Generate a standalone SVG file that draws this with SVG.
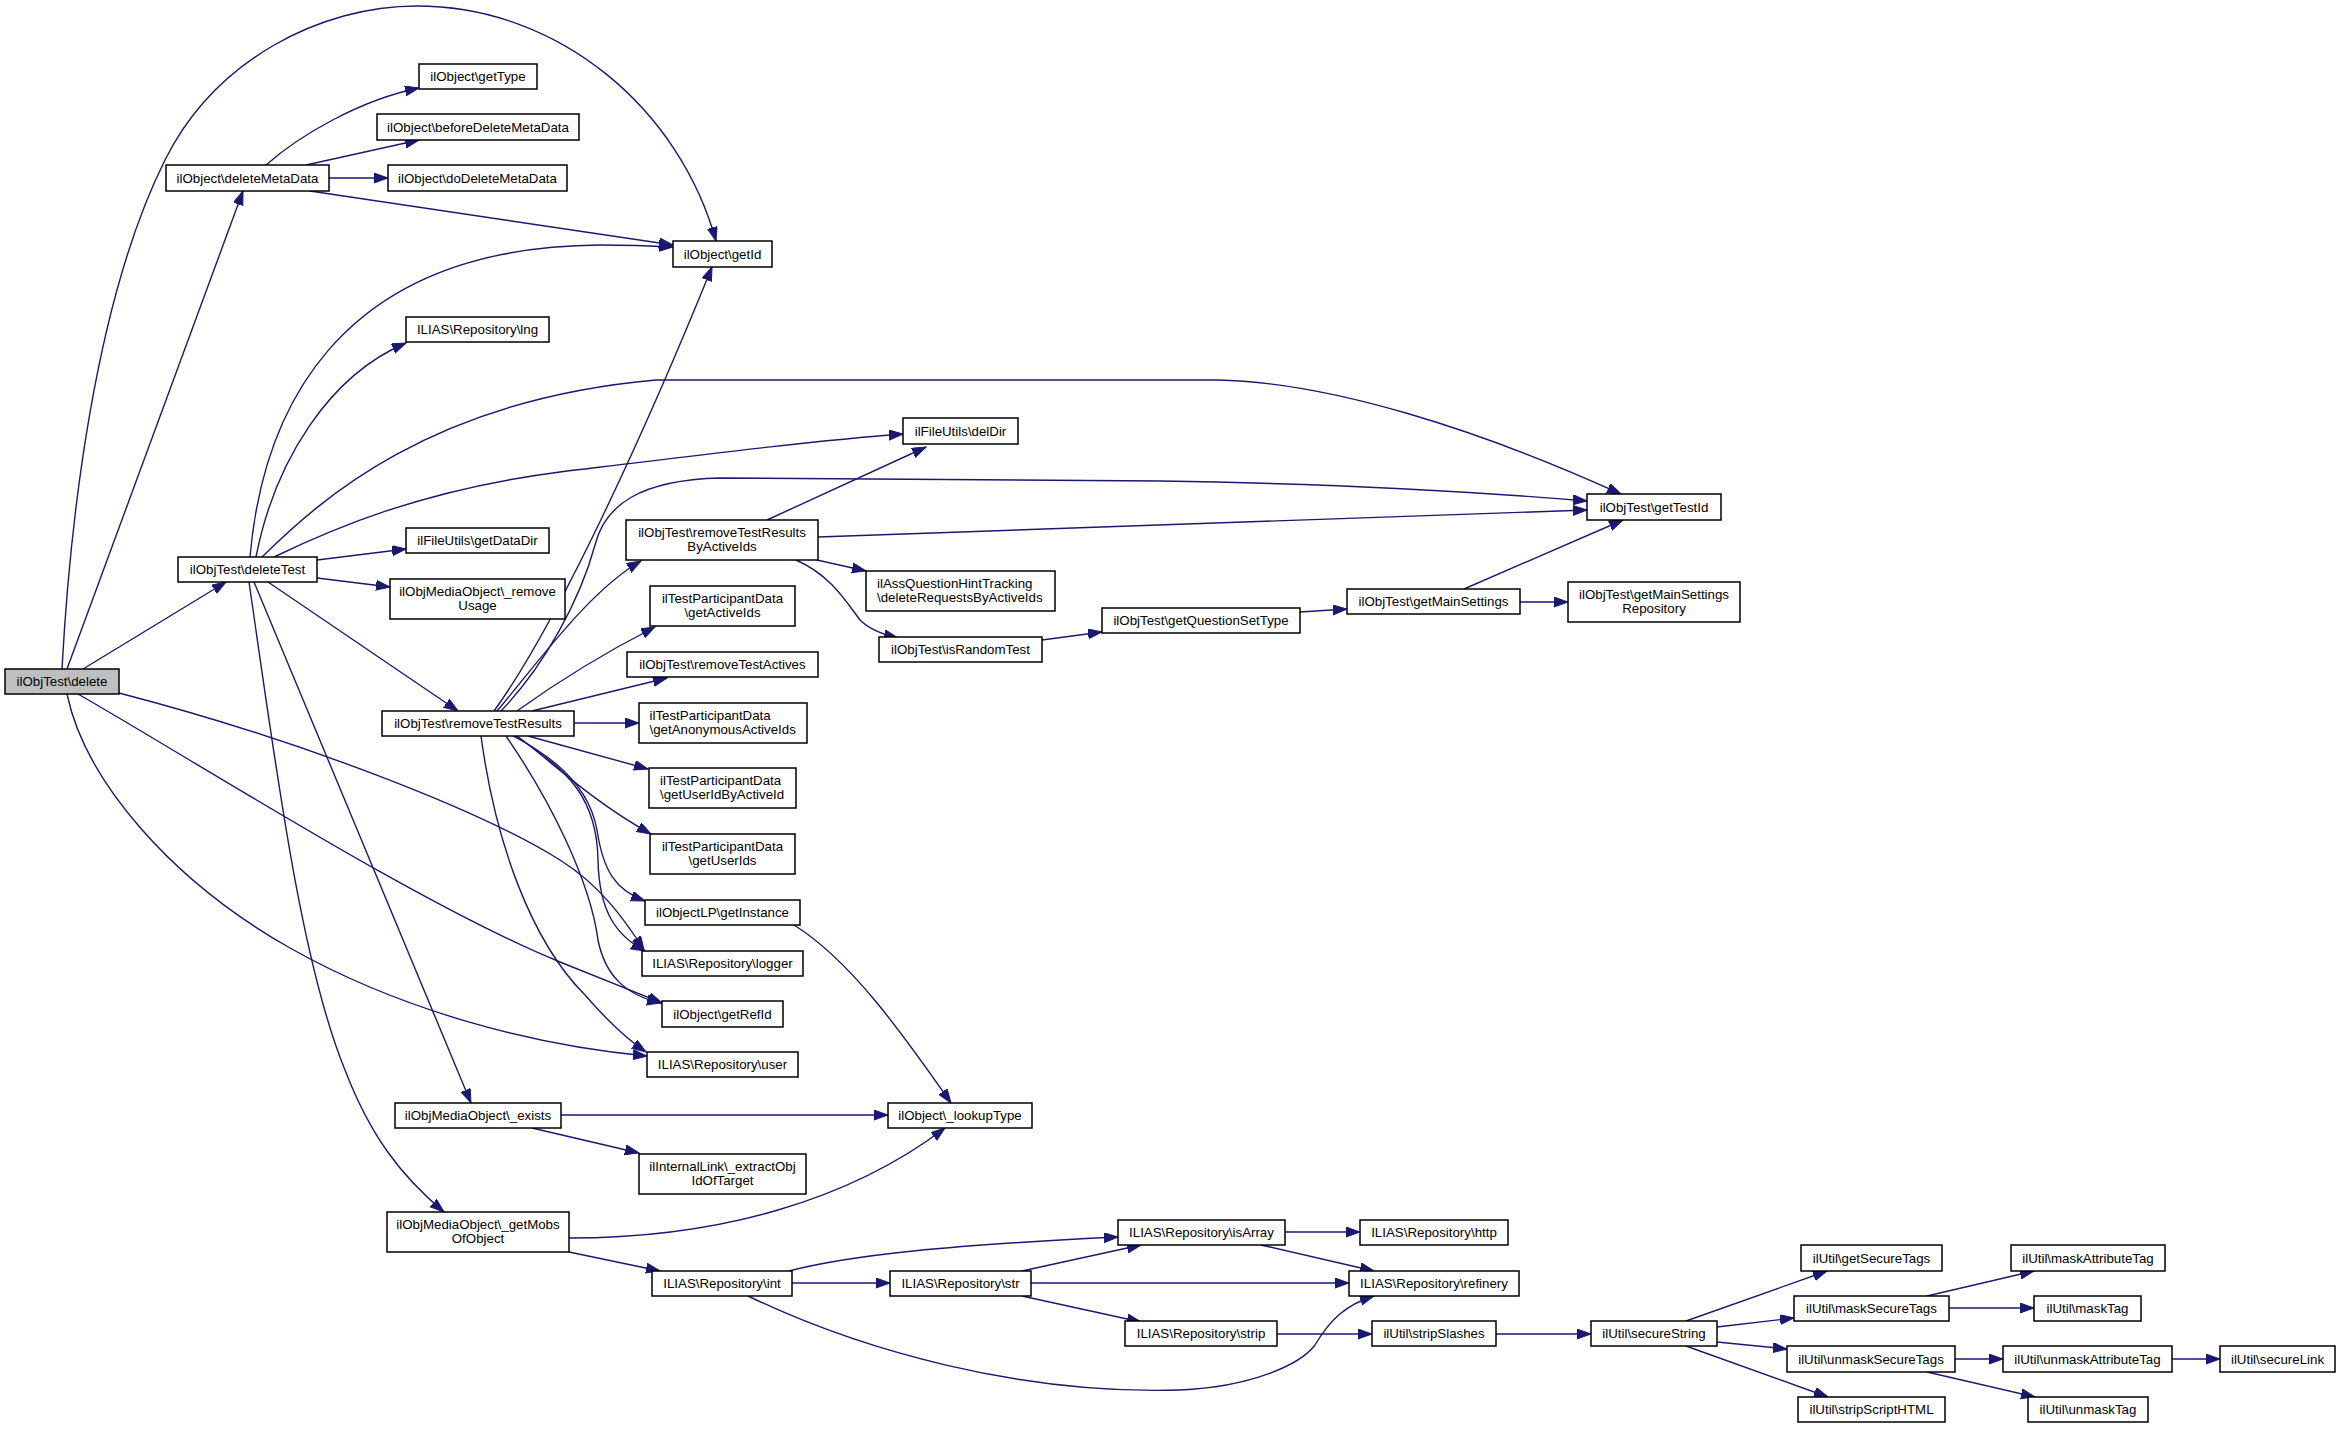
<svg xmlns="http://www.w3.org/2000/svg" width="2341" height="1429" viewBox="0 0 2341 1429">
<style>
rect{fill:#fff;stroke:#000;stroke-width:1.5}
rect.root{fill:#bfbfbf}
text{font-family:"Liberation Sans",Arial,Helvetica,sans-serif;font-size:13.3px;fill:#000;text-anchor:middle}
text.l{text-anchor:start}
#edges path{fill:none;stroke:#191970;stroke-width:1.4;marker-end:url(#ah)}
</style>
<defs>
<marker id="ah" markerUnits="userSpaceOnUse" markerWidth="16" markerHeight="12" refX="14" refY="5" orient="auto">
<path d="M0,0 L14,5 L0,10 z" fill="#191970" stroke="#191970" stroke-width="1"/>
</marker>
</defs>
<rect x="0" y="0" width="2341" height="1429" style="fill:#fff;stroke:none"/>
<g id="edges">
<path d="M62,669 C70,520 95,300 165,160 C215,60 320,6 417,6 C560,6 680,110 716,241"/>
<path d="M67,669 L243,191"/>
<path d="M83,669 L226,582"/>
<path d="M119,693 C300,740 480,810 560,860 C600,885 625,920 644,950"/>
<path d="M78,694 C200,764 420,905 560,962 C600,978 630,990 662,1003"/>
<path d="M67,694 C85,780 170,880 290,948 C400,1010 530,1045 647,1056"/>
<path d="M250,557 C262,420 330,247 600,245 C630,245 655,246 673,247"/>
<path d="M310,191 L673,245"/>
<path d="M256,557 C275,460 330,375 406,343"/>
<path d="M262,557 C320,500 430,400 656,380 L1217,380 C1330,382 1480,430 1621,494"/>
<path d="M274,557 C330,530 420,490 560,472 C700,455 820,440 903,434"/>
<path d="M317,560 L406,549"/>
<path d="M317,578 L390,587"/>
<path d="M268,582 L458,711"/>
<path d="M254,582 L471,1103"/>
<path d="M249,582 C275,760 300,960 345,1070 C370,1135 400,1175 444,1212"/>
<path d="M266,165 C300,135 360,100 419,88"/>
<path d="M306,165 L419,140"/>
<path d="M329,178 L388,178"/>
<path d="M494,711 C560,620 650,420 712,267"/>
<path d="M497,711 C540,660 590,590 641,561"/>
<path d="M501,711 C545,665 580,600 595,545 C605,505 640,480 720,478 L1160,481 C1350,484 1480,492 1587,501"/>
<path d="M517,711 C560,680 610,650 655,627"/>
<path d="M532,711 L667,678"/>
<path d="M574,723 L639,723"/>
<path d="M528,736 L648,769"/>
<path d="M517,736 C550,760 590,800 651,834"/>
<path d="M513,736 C560,760 590,790 597,830 C603,870 615,890 645,901"/>
<path d="M515,736 C570,770 597,800 598,860 C599,910 615,935 645,951"/>
<path d="M506,736 C550,800 590,880 598,940 C605,975 625,995 661,1003"/>
<path d="M481,736 C495,840 530,940 585,995 C605,1018 625,1038 646,1052"/>
<path d="M794,925 C850,960 900,1030 951,1103"/>
<path d="M767,520 L926,447"/>
<path d="M818,537 L1587,510"/>
<path d="M817,560 L866,571"/>
<path d="M796,560 C830,575 845,600 860,620 C870,630 885,635 898,638"/>
<path d="M1042,640 L1102,632"/>
<path d="M1300,612 L1347,609"/>
<path d="M1464,589 L1623,520"/>
<path d="M1520,602 L1568,602"/>
<path d="M561,1115 L888,1115"/>
<path d="M532,1128 L639,1153"/>
<path d="M569,1238 C720,1238 850,1200 945,1128"/>
<path d="M569,1252 L660,1271"/>
<path d="M789,1271 C850,1255 950,1245 1118,1237"/>
<path d="M792,1283 L890,1283"/>
<path d="M748,1296 C860,1350 1020,1395 1180,1390 C1250,1387 1300,1365 1315,1345 C1330,1320 1345,1305 1374,1296"/>
<path d="M1022,1271 L1141,1245"/>
<path d="M1031,1283 L1349,1283"/>
<path d="M1022,1296 L1141,1322"/>
<path d="M1285,1232 L1360,1232"/>
<path d="M1261,1245 L1374,1271"/>
<path d="M1277,1334 L1372,1334"/>
<path d="M1496,1334 L1591,1334"/>
<path d="M1686,1321 L1827,1271"/>
<path d="M1717,1327 L1794,1318"/>
<path d="M1717,1342 L1787,1349"/>
<path d="M1686,1346 L1828,1397"/>
<path d="M1927,1296 L2034,1271"/>
<path d="M1949,1308 L2034,1308"/>
<path d="M1955,1359 L2003,1359"/>
<path d="M1927,1372 L2035,1397"/>
<path d="M2172,1359 L2220,1359"/>
</g>
<g id="n_delete"><rect class="root" x="5" y="669" width="114" height="25"/><text x="62" y="686.2">ilObjTest\delete</text></g>
<g id="n_deleteMetaData"><rect x="166" y="165" width="163" height="26"/><text x="247.5" y="182.7">ilObject\deleteMetaData</text></g>
<g id="n_getType"><rect x="419" y="64" width="118" height="25"/><text x="478" y="81.2">ilObject\getType</text></g>
<g id="n_beforeDeleteMetaData"><rect x="377" y="114" width="202" height="26"/><text x="478" y="131.7">ilObject\beforeDeleteMetaData</text></g>
<g id="n_doDeleteMetaData"><rect x="388" y="165" width="179" height="26"/><text x="477.5" y="182.7">ilObject\doDeleteMetaData</text></g>
<g id="n_getId"><rect x="673" y="241" width="99" height="26"/><text x="722.5" y="258.7">ilObject\getId</text></g>
<g id="n_lng"><rect x="406" y="317" width="143" height="25"/><text x="477.5" y="334.2">ILIAS\Repository\lng</text></g>
<g id="n_delDir"><rect x="903" y="418" width="115" height="26"/><text x="960.5" y="435.7">ilFileUtils\delDir</text></g>
<g id="n_deleteTest"><rect x="178" y="557" width="139" height="25"/><text x="247.5" y="574.2">ilObjTest\deleteTest</text></g>
<g id="n_getDataDir"><rect x="406" y="528" width="143" height="25"/><text x="477.5" y="545.2">ilFileUtils\getDataDir</text></g>
<g id="n_removeUsage"><rect x="390" y="579" width="175" height="40"/><text x="477.5" y="596">ilObjMediaObject\_remove</text><text x="477.5" y="610">Usage</text></g>
<g id="n_removeTestResults"><rect x="382" y="711" width="192" height="25"/><text x="478" y="728.2">ilObjTest\removeTestResults</text></g>
<g id="n_removeTestResultsByActiveIds"><rect x="626" y="520" width="192" height="40"/><text x="722" y="537">ilObjTest\removeTestResults</text><text x="722" y="551">ByActiveIds</text></g>
<g id="n_getActiveIds"><rect x="650" y="586" width="145" height="40"/><text x="722.5" y="603">ilTestParticipantData</text><text x="722.5" y="617">\getActiveIds</text></g>
<g id="n_removeTestActives"><rect x="627" y="652" width="191" height="25"/><text x="722.5" y="669.2">ilObjTest\removeTestActives</text></g>
<g id="n_getAnonymousActiveIds"><rect x="639" y="703" width="168" height="40"/><text class="l" x="649.5" y="720">ilTestParticipantData</text><text class="l" x="649.5" y="734">\getAnonymousActiveIds</text></g>
<g id="n_getUserIdByActiveId"><rect x="649" y="768" width="147" height="40"/><text class="l" x="660" y="785">ilTestParticipantData</text><text class="l" x="660" y="799">\getUserIdByActiveId</text></g>
<g id="n_getUserIds"><rect x="650" y="834" width="145" height="40"/><text x="722.5" y="851">ilTestParticipantData</text><text x="722.5" y="865">\getUserIds</text></g>
<g id="n_getInstance"><rect x="645" y="900" width="155" height="25"/><text x="722.5" y="917.2">ilObjectLP\getInstance</text></g>
<g id="n_logger"><rect x="642" y="951" width="161" height="25"/><text x="722.5" y="968.2">ILIAS\Repository\logger</text></g>
<g id="n_getRefId"><rect x="662" y="1001" width="121" height="26"/><text x="722.5" y="1018.7">ilObject\getRefId</text></g>
<g id="n_user"><rect x="647" y="1052" width="151" height="25"/><text x="722.5" y="1069.2">ILIAS\Repository\user</text></g>
<g id="n_lookupType"><rect x="888" y="1103" width="144" height="25"/><text x="960" y="1120.2">ilObject\_lookupType</text></g>
<g id="n_extractObjIdOfTarget"><rect x="639" y="1154" width="167" height="40"/><text x="722.5" y="1171">ilInternalLink\_extractObj</text><text x="722.5" y="1185">IdOfTarget</text></g>
<g id="n_exists"><rect x="395" y="1103" width="166" height="25"/><text x="478" y="1120.2">ilObjMediaObject\_exists</text></g>
<g id="n_getMobsOfObject"><rect x="387" y="1212" width="182" height="40"/><text x="478" y="1229">ilObjMediaObject\_getMobs</text><text x="478" y="1243">OfObject</text></g>
<g id="n_int"><rect x="652" y="1271" width="140" height="25"/><text x="722" y="1288.2">ILIAS\Repository\int</text></g>
<g id="n_str"><rect x="890" y="1271" width="141" height="25"/><text x="960.5" y="1288.2">ILIAS\Repository\str</text></g>
<g id="n_isArray"><rect x="1118" y="1220" width="167" height="25"/><text x="1201.5" y="1237.2">ILIAS\Repository\isArray</text></g>
<g id="n_strip"><rect x="1125" y="1321" width="152" height="25"/><text x="1201" y="1338.2">ILIAS\Repository\strip</text></g>
<g id="n_http"><rect x="1360" y="1220" width="148" height="25"/><text x="1434" y="1237.2">ILIAS\Repository\http</text></g>
<g id="n_refinery"><rect x="1349" y="1271" width="170" height="25"/><text x="1434" y="1288.2">ILIAS\Repository\refinery</text></g>
<g id="n_stripSlashes"><rect x="1372" y="1321" width="124" height="25"/><text x="1434" y="1338.2">ilUtil\stripSlashes</text></g>
<g id="n_secureString"><rect x="1591" y="1321" width="126" height="25"/><text x="1654" y="1338.2">ilUtil\secureString</text></g>
<g id="n_getSecureTags"><rect x="1801" y="1245" width="141" height="26"/><text x="1871.5" y="1262.7">ilUtil\getSecureTags</text></g>
<g id="n_maskAttributeTag"><rect x="2011" y="1245" width="154" height="26"/><text x="2088" y="1262.7">ilUtil\maskAttributeTag</text></g>
<g id="n_maskSecureTags"><rect x="1794" y="1296" width="155" height="25"/><text x="1871.5" y="1313.2">ilUtil\maskSecureTags</text></g>
<g id="n_maskTag"><rect x="2034" y="1296" width="107" height="25"/><text x="2087.5" y="1313.2">ilUtil\maskTag</text></g>
<g id="n_unmaskSecureTags"><rect x="1787" y="1346" width="168" height="26"/><text x="1871" y="1363.7">ilUtil\unmaskSecureTags</text></g>
<g id="n_unmaskAttributeTag"><rect x="2003" y="1346" width="169" height="26"/><text x="2087.5" y="1363.7">ilUtil\unmaskAttributeTag</text></g>
<g id="n_secureLink"><rect x="2220" y="1346" width="115" height="26"/><text x="2277.5" y="1363.7">ilUtil\secureLink</text></g>
<g id="n_stripScriptHTML"><rect x="1798" y="1397" width="147" height="25"/><text x="1871.5" y="1414.2">ilUtil\stripScriptHTML</text></g>
<g id="n_unmaskTag"><rect x="2028" y="1397" width="120" height="25"/><text x="2088" y="1414.2">ilUtil\unmaskTag</text></g>
<g id="n_isRandomTest"><rect x="879" y="637" width="163" height="25"/><text x="960.5" y="654.2">ilObjTest\isRandomTest</text></g>
<g id="n_deleteRequestsByActiveIds"><rect x="866" y="571" width="189" height="40"/><text class="l" x="877" y="588">ilAssQuestionHintTracking</text><text class="l" x="877" y="602">\deleteRequestsByActiveIds</text></g>
<g id="n_getQuestionSetType"><rect x="1102" y="608" width="198" height="25"/><text x="1201" y="625.2">ilObjTest\getQuestionSetType</text></g>
<g id="n_getMainSettings"><rect x="1347" y="589" width="173" height="25"/><text x="1433.5" y="606.2">ilObjTest\getMainSettings</text></g>
<g id="n_getTestId"><rect x="1587" y="494" width="134" height="26"/><text x="1654" y="511.7">ilObjTest\getTestId</text></g>
<g id="n_getMainSettingsRepository"><rect x="1568" y="582" width="172" height="40"/><text x="1654" y="599">ilObjTest\getMainSettings</text><text x="1654" y="613">Repository</text></g>
</svg>
